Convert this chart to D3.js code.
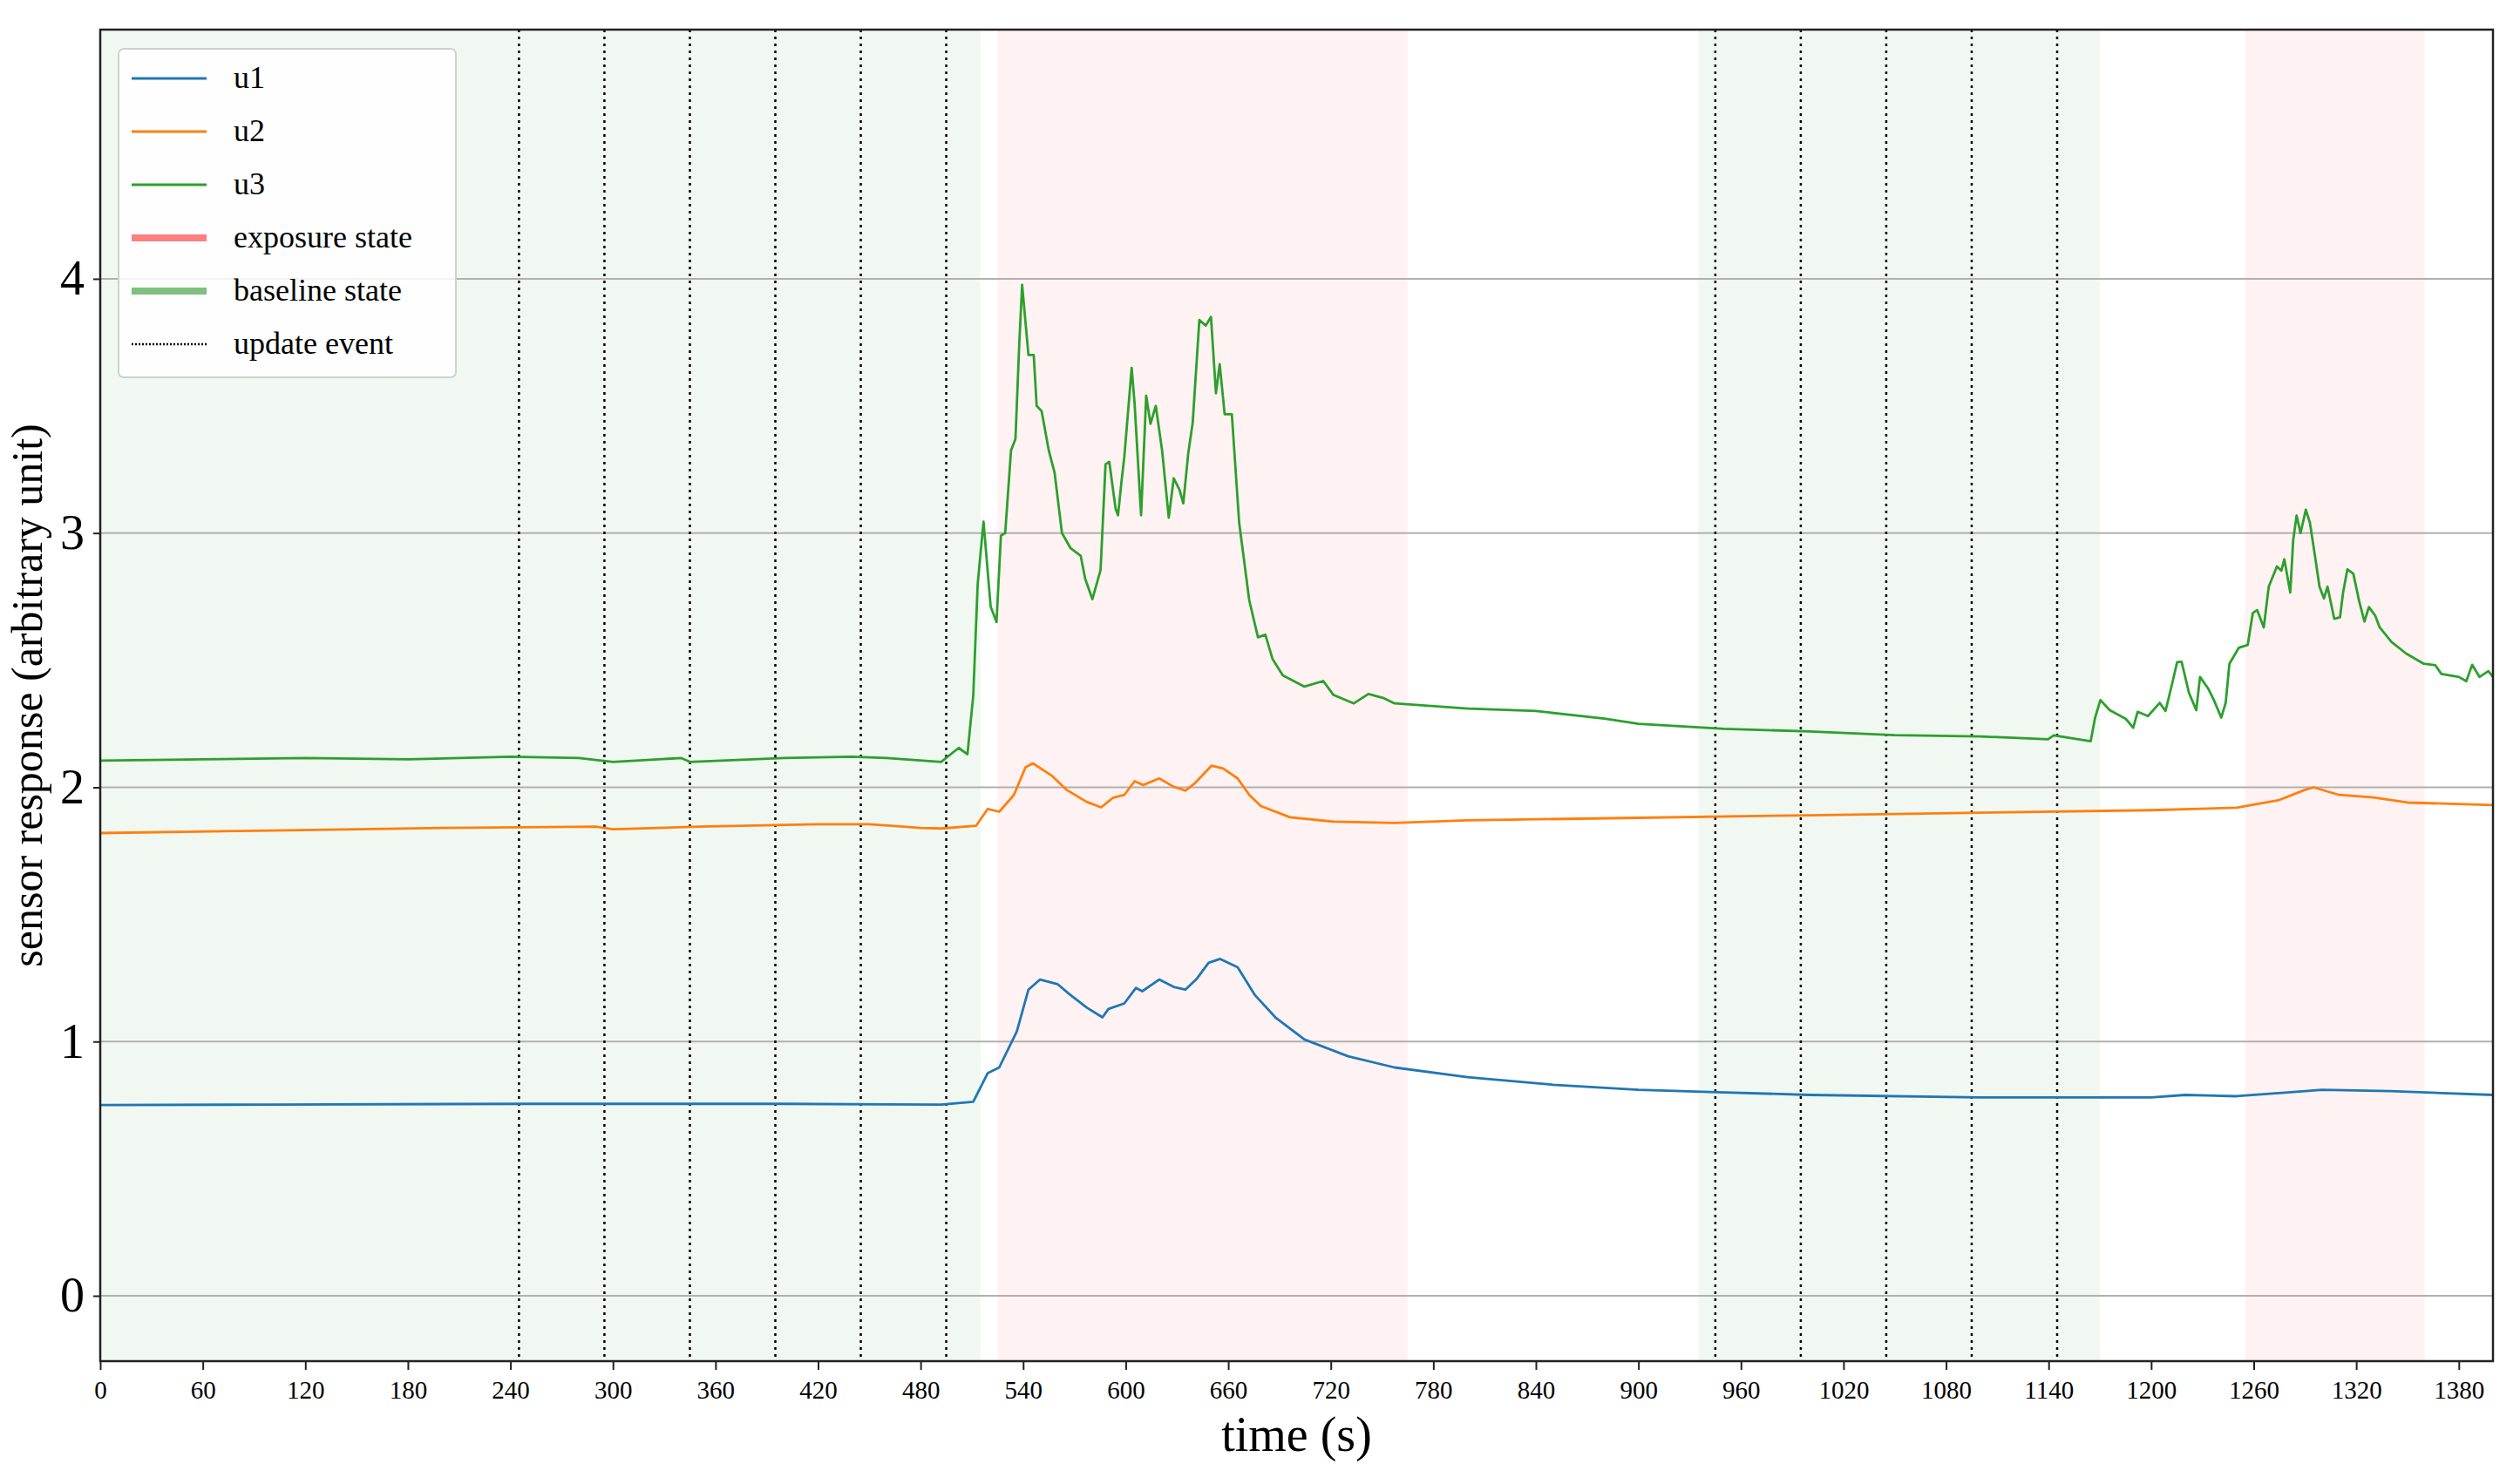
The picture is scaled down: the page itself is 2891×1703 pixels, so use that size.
<!DOCTYPE html>
<html>
<head>
<meta charset="utf-8">
<script src="https://cdn.jsdelivr.net/npm/d3@7"></script>
<style>
  body { margin: 0; background: #fff; }
  text { font-family: "Liberation Serif", "DejaVu Serif", serif; }
</style>
</head>
<body>
<div id="chart-container"></div>
<script>
// Data (time in s, response in arbitrary units)
const u1 = [
  [0,0.75],[100,0.752],[250,0.755],[400,0.755],[492,0.752],[510.8,0.763],[519.3,0.876],[526,0.898],
  [536.3,1.04],[543.1,1.204],[549.9,1.244],[560.1,1.226],[566.9,1.187],[577.1,1.134],[586.4,1.095],
  [589.9,1.128],[599.2,1.15],[606,1.211],[609.7,1.198],[619.6,1.244],[628.1,1.215],[634.9,1.204],
  [641.7,1.248],[648.5,1.31],[655.3,1.325],[665.5,1.292],[675.7,1.182],[687.6,1.095],[704.6,1.008],
  [730.1,0.942],[757.3,0.898],[800,0.86],[850,0.83],[900,0.81],[950,0.8],[1000,0.79],[1100,0.78],
  [1200,0.78],[1220,0.79],[1250,0.785],[1280,0.8],[1300,0.81],[1340,0.805],[1400,0.79]
];
const u2 = [
  [0,1.82],[100,1.83],[200,1.84],[290,1.845],[300,1.835],[350,1.845],[420,1.855],[450,1.855],
  [480,1.84],[492,1.838],[512.5,1.849],[519.3,1.915],[526,1.904],[534.6,1.97],[541.4,2.079],
  [545.7,2.094],[556.7,2.046],[565.2,1.991],[577.1,1.943],[585.6,1.921],[592.4,1.958],[599.2,1.97],
  [605.2,2.024],[610.3,2.009],[619.6,2.035],[628.1,2.002],[634.9,1.987],[640,2.013],[650.2,2.085],
  [657,2.074],[665.5,2.035],[672.3,1.97],[679.1,1.926],[696.1,1.882],[721.6,1.865],[757.3,1.86],
  [800,1.87],[900,1.88],[1000,1.89],[1100,1.9],[1200,1.91],[1250,1.92],[1275,1.95],[1290,1.99],
  [1295,2.0],[1310,1.97],[1330,1.96],[1350,1.94],[1400,1.93]
];
const u3 = [
  [0,2.105],[60,2.11],[120,2.115],[180,2.11],[240,2.12],[280,2.115],[300,2.1],[340,2.115],[345,2.1],
  [400,2.115],[440,2.12],[460,2.115],[492,2.1],[502.3,2.155],[507.4,2.13],[510.8,2.36],[513.4,2.8],
  [516.8,3.045],[521,2.71],[524.4,2.65],[527,2.99],[529.5,3.0],[532.9,3.325],[535.5,3.37],[537.7,3.74],
  [539.4,3.976],[543.1,3.7],[546.2,3.7],[547.9,3.5],[550.8,3.48],[555,3.325],[558.4,3.237],[562.7,3.0],
  [567.8,2.94],[573.7,2.91],[576.3,2.82],[580.5,2.74],[585.3,2.855],[588.2,3.27],[590.4,3.28],
  [594.1,3.095],[595.5,3.07],[597.5,3.2],[599.2,3.3],[603.5,3.65],[605.2,3.51],[609,3.07],[612,3.54],
  [614.5,3.43],[617.6,3.5],[621.3,3.325],[625.2,3.06],[628.1,3.215],[631.5,3.17],[633.7,3.117],
  [636.6,3.314],[639.2,3.434],[643.1,3.838],[646.8,3.816],[649.9,3.85],[652.8,3.55],[655,3.664],
  [657.9,3.467],[662.1,3.467],[666.4,3.04],[672.3,2.735],[677.4,2.59],[681.7,2.6],[685.9,2.505],
  [691.9,2.44],[704.6,2.396],[715.6,2.418],[721.6,2.363],[733.5,2.33],[742,2.367],[750.5,2.352],
  [757.3,2.33],[800,2.31],[840,2.3],[880,2.27],[900,2.25],[950,2.23],[1000,2.22],[1050,2.205],
  [1100,2.2],[1139.7,2.189],[1143,2.204],[1164.6,2.181],[1167.2,2.274],[1170.3,2.343],[1175.8,2.303],
  [1185.2,2.269],[1189.5,2.234],[1192.1,2.297],[1198.1,2.28],[1205,2.332],[1208.4,2.3],[1211.8,2.394],
  [1215.2,2.492],[1217.8,2.494],[1222.1,2.372],[1226.4,2.303],[1228.6,2.434],[1233.3,2.389],
  [1236.7,2.343],[1241,2.274],[1243.6,2.332],[1245.8,2.486],[1251.3,2.549],[1256.5,2.56],[1259.5,2.686],
  [1262,2.697],[1265.9,2.629],[1268.8,2.789],[1273.6,2.869],[1276.2,2.852],[1277.9,2.897],[1281.4,2.766],
  [1283.1,2.972],[1285.1,3.069],[1287.4,3.0],[1290.5,3.092],[1292.9,3.04],[1296,2.903],[1298.5,2.789],
  [1301.1,2.743],[1303.2,2.789],[1307.1,2.663],[1310.5,2.669],[1312.3,2.766],[1314.8,2.857],
  [1318.3,2.84],[1321.7,2.732],[1324.8,2.652],[1327.4,2.709],[1331.1,2.675],[1333.7,2.629],
  [1340.6,2.572],[1349.2,2.526],[1359.5,2.486],[1366.3,2.48],[1369.8,2.446],[1380.1,2.434],
  [1384.4,2.417],[1387.8,2.482],[1392.1,2.434],[1397.3,2.457],[1400,2.434]
];
const baselineSpans = [[0, 515], [935, 1170]];
const exposureSpans = [[525, 765], [1255, 1360]];
const updateEvents = [245, 295, 345, 395, 445, 495, 945, 995, 1045, 1095, 1145];
const xTicks = d3.range(0, 1381, 60);
const yTicks = [0, 1, 2, 3, 4];
const series = [
  { name: "u1", values: u1, color: "#1f77b4" },
  { name: "u2", values: u2, color: "#ff7f0e" },
  { name: "u3", values: u3, color: "#2ca02c" }
];

const width = 2891, height = 1703;
const margin = { top: 34, right: 31, bottom: 141, left: 115 };

const svg = d3.select("#chart-container").append("svg")
  .attr("width", width).attr("height", height);

const x = d3.scaleLinear().domain([0, 1400]).range([margin.left, width - margin.right]);
const y = d3.scaleLinear().domain([-0.257, 4.98]).range([height - margin.bottom, margin.top]);

// shaded states
svg.selectAll(".base").data(baselineSpans).enter().append("rect")
  .attr("x", d => x(d[0])).attr("width", d => x(d[1]) - x(d[0]))
  .attr("y", margin.top).attr("height", y.range()[0] - margin.top)
  .attr("fill", "green").attr("opacity", 0.055);
svg.selectAll(".expo").data(exposureSpans).enter().append("rect")
  .attr("x", d => x(d[0])).attr("width", d => x(d[1]) - x(d[0]))
  .attr("y", margin.top).attr("height", y.range()[0] - margin.top)
  .attr("fill", "red").attr("opacity", 0.05);

// grid
svg.selectAll(".grid").data(yTicks).enter().append("line")
  .attr("x1", x(0)).attr("x2", x(1400))
  .attr("y1", d => y(d)).attr("y2", d => y(d))
  .attr("stroke", "#b0b0b0").attr("stroke-width", 2);

// update events
svg.selectAll(".evt").data(updateEvents).enter().append("line")
  .attr("x1", d => x(d)).attr("x2", d => x(d))
  .attr("y1", margin.top).attr("y2", y.range()[0])
  .attr("stroke", "#000").attr("stroke-width", 2.5).attr("stroke-dasharray", "3,5");

// lines
const line = d3.line().x(d => x(d[0])).y(d => y(d[1]));
svg.selectAll(".series").data(series).enter().append("path")
  .attr("d", d => line(d.values))
  .attr("fill", "none").attr("stroke", d => d.color).attr("stroke-width", 2.8)
  .attr("stroke-linejoin", "round");

// axes
const xAxis = svg.append("g")
  .attr("transform", `translate(0,${y.range()[0]})`)
  .call(d3.axisBottom(x).tickValues(xTicks).tickFormat(d3.format("d")).tickSize(10).tickPadding(12));
const yAxis = svg.append("g")
  .attr("transform", `translate(${margin.left},0)`)
  .call(d3.axisLeft(y).tickValues(yTicks).tickFormat(d3.format("d")).tickSize(8).tickPadding(10));
xAxis.selectAll("text").attr("font-size", 29).attr("font-family", "Liberation Serif");
yAxis.selectAll("text").attr("font-size", 56).attr("font-family", "Liberation Serif");
svg.selectAll(".domain").remove();
svg.selectAll(".tick line").attr("stroke", "#222").attr("stroke-width", 2);

svg.append("rect")
  .attr("x", margin.left).attr("y", margin.top)
  .attr("width", x(1400) - margin.left).attr("height", y.range()[0] - margin.top)
  .attr("fill", "none").attr("stroke", "#222").attr("stroke-width", 2.5);

// labels
svg.append("text").attr("x", (x(0) + x(1400)) / 2).attr("y", 1665)
  .attr("text-anchor", "middle").attr("font-size", 56).text("time (s)");
svg.append("text")
  .attr("transform", `translate(48,${(margin.top + y.range()[0]) / 2}) rotate(-90)`)
  .attr("text-anchor", "middle").attr("font-size", 50).text("sensor response (arbitrary unit)");

// legend
const legendItems = [
  { label: "u1", color: "#1f77b4", w: 3 },
  { label: "u2", color: "#ff7f0e", w: 3 },
  { label: "u3", color: "#2ca02c", w: 3 },
  { label: "exposure state", color: "#ff7f7f", w: 8 },
  { label: "baseline state", color: "#7fbf7f", w: 8 },
  { label: "update event", color: "#000", w: 2.5, dash: "2,2" }
];
const lg = svg.append("g");
lg.append("rect").attr("x", 136).attr("y", 56).attr("width", 387).attr("height", 377)
  .attr("rx", 6).attr("fill", "#fff").attr("fill-opacity", 0.85)
  .attr("stroke", "#d0d0d0").attr("stroke-width", 2);
const rows = lg.selectAll(".row").data(legendItems).enter().append("g")
  .attr("transform", (d, i) => `translate(0,${90 + i * 61})`);
rows.append("line").attr("x1", 151).attr("x2", 237)
  .attr("stroke", d => d.color).attr("stroke-width", d => d.w)
  .attr("stroke-dasharray", d => d.dash || null);
rows.append("text").attr("x", 268).attr("y", 11).attr("font-size", 36).text(d => d.label);
</script>
</body>
</html>
